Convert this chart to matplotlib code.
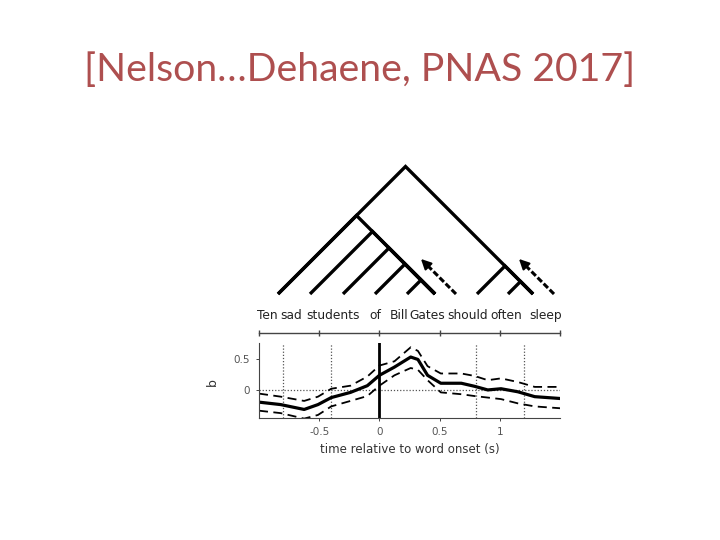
import numpy as np
import matplotlib
matplotlib.use("Agg")
import matplotlib.pyplot as plt

# ---------------------------------------------------------
# Data
# ---------------------------------------------------------
TITLE = "[Nelson\u2026Dehaene, PNAS 2017]"

words = ["Ten", "sad", "students", "of", "Bill", "Gates", "should", "often", "sleep"]
word_x = [267, 291, 333, 375, 399, 427, 468, 506, 546]          # label centres (px)
leaf_x = [278, 310, 343, 375, 407, 435, 477, 508, 533]          # tree leaf ends (px)
# tree as nested leaf indices
tree = ((0, (1, (2, (3, (4, 5))))), (6, (7, 8)))
arrow_leaves = [5, 8]   # dashed arrows to the right of these leaves

time = [-1.0, -0.82, -0.625, -0.51, -0.4, -0.24, -0.1, 0.0, 0.125, 0.26, 0.32,
        0.4, 0.51, 0.68, 0.79, 0.9, 1.01, 1.15, 1.29, 1.5]
b_mean = [-0.20, -0.24, -0.32, -0.24, -0.125, -0.04, 0.07, 0.24, 0.375, 0.54, 0.50,
          0.24, 0.11, 0.11, 0.06, 0.0, 0.02, -0.03, -0.11, -0.14]
b_upper = [-0.06, -0.11, -0.18, -0.11, 0.02, 0.07, 0.22, 0.40, 0.47, 0.70, 0.64,
           0.39, 0.27, 0.27, 0.23, 0.16, 0.19, 0.13, 0.05, 0.05]
b_lower = [-0.34, -0.38, -0.47, -0.41, -0.27, -0.18, -0.10, 0.07, 0.24, 0.36, 0.33,
           0.16, -0.04, -0.07, -0.10, -0.125, -0.15, -0.22, -0.27, -0.30]

onsets_dotted = [-0.8, -0.4, 0.8, 1.2]
x_ticks = [-0.5, 0, 0.5, 1]
x_ticklabels = ["-0.5", "0", "0.5", "1"]
y_ticks = [0, 0.5]
y_ticklabels = ["0", "0.5"]

W, H = 720, 540
fig = plt.figure(figsize=(7.2, 5.4), dpi=100)
fig.patch.set_facecolor("white")

# overlay axes in pixel units for the title / tree / words
ov = fig.add_axes([0, 0, 1, 1])
ov.set_xlim(0, W)
ov.set_ylim(H, 0)
ov.axis("off")

ov.text(360, 70, TITLE, ha="center", va="center", fontsize=28.3,
        family="Lato", color="#AE4F4F")

# ---------------------------------------------------------
# Tree
# ---------------------------------------------------------
BASE = 294

def span(node):
    if isinstance(node, int):
        return leaf_x[node], leaf_x[node]
    l0, _ = span(node[0])
    _, r1 = span(node[1])
    return l0, r1

def draw(node):
    if isinstance(node, int):
        return
    a, c = span(node)
    mx, h = (a + c) / 2, (c - a) / 2
    ov.plot([a, mx, c], [BASE, BASE - h, BASE], color="black", lw=2.4,
            solid_capstyle="butt", solid_joinstyle="miter")
    draw(node[0])
    draw(node[1])

draw(tree)

for li in arrow_leaves:
    x0 = leaf_x[li] + 21
    ov.plot([x0, x0 - 32], [BASE, BASE - 32], color="black", lw=2.2,
            ls=(0, (2.0, 0.8)))
    ov.annotate("", xy=(x0 - 37, BASE - 37), xytext=(x0 - 28, BASE - 28),
                arrowprops=dict(arrowstyle="-|>,head_length=0.6,head_width=0.3",
                                color="black", lw=1.5))

for w, x in zip(words, word_x):
    ov.text(x, 319, w, ha="center", va="baseline", fontsize=8.8,
            family="DejaVu Sans", color="#222222")

# ---------------------------------------------------------
# Time-course axes
# ---------------------------------------------------------
L, R, T, B = 259, 560, 343, 418
ax = fig.add_axes([L / W, 1 - B / H, (R - L) / W, (B - T) / H])
ax.set_xlim(-1, 1.5)
ax.set_ylim(-0.46, 0.77)

for t in onsets_dotted:
    ax.axvline(t, color="#555555", lw=0.9, ls=(0, (1, 1.5)))
ax.axhline(0, color="#555555", lw=0.9, ls=(0, (1, 1.5)))
ax.axvline(0, color="black", lw=2.0)

ax.plot(time, b_upper, color="black", lw=1.3, ls=(0, (5, 3)))
ax.plot(time, b_lower, color="black", lw=1.3, ls=(0, (5, 3)))
ax.plot(time, b_mean, color="black", lw=2.3)

for s in ["top", "right"]:
    ax.spines[s].set_visible(False)
for s in ["left", "bottom"]:
    ax.spines[s].set_color("#444444")
    ax.spines[s].set_linewidth(0.8)

ax.set_xticks(x_ticks)
ax.set_xticklabels(x_ticklabels)
ax.set_yticks(y_ticks)
ax.set_yticklabels(y_ticklabels)
ax.tick_params(length=2.5, width=0.7, colors="#444444", labelsize=7.5,
               labelcolor="#555555", pad=4)
ax.set_xlabel("time relative to word onset (s)", fontsize=8.5, color="#333333",
              labelpad=4)
ax.set_ylabel("b", fontsize=9, color="#333333")
ax.yaxis.set_label_coords((219 - L) / (R - L), (B - 382) / (B - T))

# upper onset line with ticks
ax2 = fig.add_axes([L / W, 1 - 333 / H, (R - L) / W, 0.001])
ax2.set_xlim(-1, 1.5)
ax2.set_yticks([])
for s in ["top", "right", "left"]:
    ax2.spines[s].set_visible(False)
ax2.spines["bottom"].set_color("#444444")
ax2.spines["bottom"].set_linewidth(1.0)
ax2.set_xticks([-1, -0.5, 0, 0.5, 1, 1.5])
ax2.set_xticklabels([])
ax2.tick_params(direction="inout", length=4, width=1.0, colors="#444444")

fig.savefig("out.png", dpi=100)
